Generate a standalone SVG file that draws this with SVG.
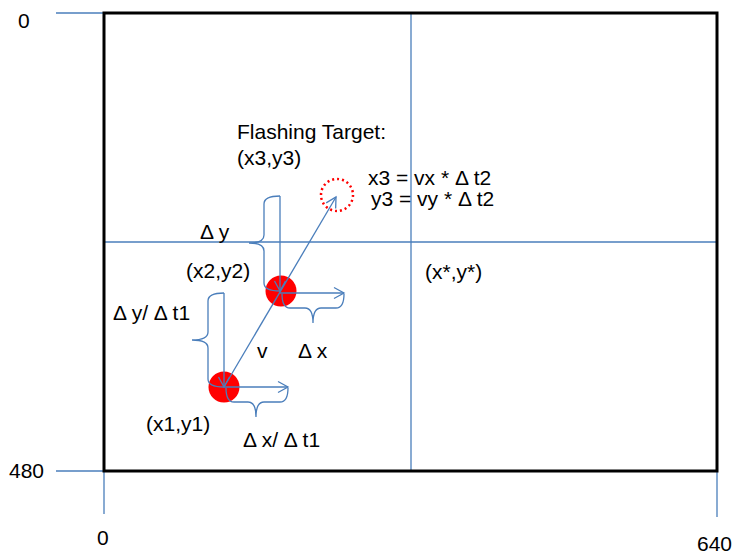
<svg xmlns="http://www.w3.org/2000/svg" width="736" height="556" viewBox="0 0 736 556">
<defs>
<marker id="arr" markerUnits="userSpaceOnUse" markerWidth="14" markerHeight="14" viewBox="0 0 14 14" refX="12" refY="7" orient="auto">
<path d="M2,1.5 L12,7 L2,12.5" fill="none" stroke="#4a7ebb" stroke-width="1.3"/>
</marker>
</defs>
<style>
.t{font-family:"Liberation Sans",Arial,sans-serif;font-size:21px;fill:#000}
.b{fill:none;stroke:#4a7ebb;stroke-width:1.3}
.c{fill:none;stroke:#4a7ebb;stroke-width:1.3;marker-end:url(#arr)}
.dot{fill:#ff0000}
</style>
<rect width="736" height="556" fill="#fff"/>
<g id="frame">
<line class="b" x1="56" y1="13" x2="104" y2="13"/>
<line class="b" x1="56" y1="471" x2="104" y2="471"/>
<line class="b" x1="104" y1="471" x2="104" y2="514"/>
<line class="b" x1="717" y1="471" x2="717" y2="517"/>
<line class="b" x1="411" y1="13" x2="411" y2="471"/>
<line class="b" x1="104" y1="242" x2="717" y2="242"/>
<rect x="104" y="13" width="613" height="458" fill="none" stroke="#000" stroke-width="3"/>
<text class="t" x="18" y="28">0</text>
<text class="t" x="9" y="478">480</text>
<text class="t" x="97" y="545">0</text>
<text class="t" x="697" y="551">640</text>
<text class="t" x="425" y="279">(x*,y*)</text>
</g>
<g id="target">
<circle cx="337" cy="195" r="16" fill="none" stroke="#ff0000" stroke-width="2.5" stroke-dasharray="2,3"/>
<text class="t" x="237" y="139">Flashing Target:</text>
<text class="t" x="237" y="165">(x3,y3)</text>
<text class="t" x="368" y="185">x3 = vx * Δ t2</text>
<text class="t" x="371" y="206">y3 = vy * Δ t2</text>
</g>
<g id="p2">
<circle class="dot" cx="281" cy="291" r="15.5"/>
<text class="t" x="186" y="278">(x2,y2)</text>
<text class="t" x="200" y="239">Δ y</text>
<text class="t" x="298" y="358">Δ x</text>
</g>
<g id="p1">
<circle class="dot" cx="224" cy="387" r="15.5"/>
<text class="t" x="146" y="431">(x1,y1)</text>
<text class="t" x="113" y="320">Δ y/ Δ t1</text>
<text class="t" x="243" y="447">Δ x/ Δ t1</text>
<text class="t" x="257" y="358">v</text>
</g>
<g id="connectors">
<path class="b" d="M280,196 Q264,196 264,204 L264,235 Q264,243 249,243 Q264,243 264,251 L264,283 Q264,291 280,291"/>
<path class="b" d="M224,293 Q208,293 208,301 L208,332 Q208,340 192,340 Q208,340 208,348 L208,379 Q208,387 224,387"/>
<path class="b" d="M282,294 Q282,308 290,308 L305,308 Q313,308 313,323 Q313,308 321,308 L336,308 Q344,308 344,294"/>
<path class="b" d="M226,388 Q226,402 234,402 L248,402 Q256,402 256,417 Q256,402 264,402 L280,402 Q288,402 288,388"/>
<line class="c" x1="280" y1="196" x2="280" y2="291"/>
<line class="c" x1="280" y1="293" x2="344" y2="293"/>
<line class="c" x1="224" y1="293" x2="224" y2="387"/>
<line class="c" x1="224" y1="387" x2="288" y2="387"/>
<line class="c" x1="224" y1="387" x2="336" y2="197"/>
</g>
</svg>
